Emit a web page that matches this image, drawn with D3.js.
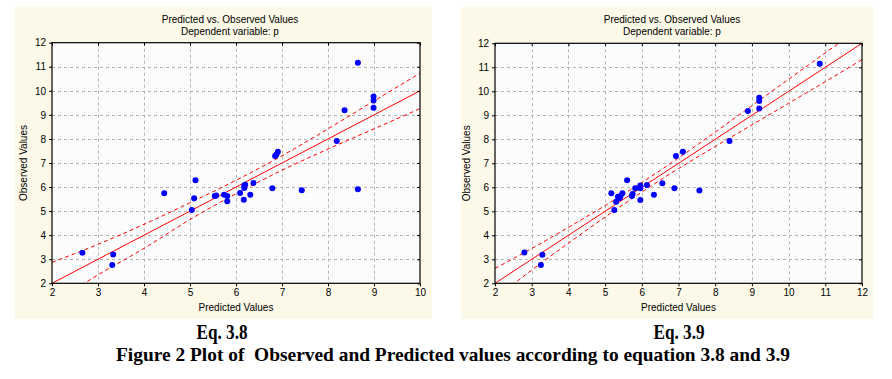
<!DOCTYPE html>
<html><head><meta charset="utf-8">
<script src="https://cdn.jsdelivr.net/npm/d3@7/dist/d3.min.js"></script>
<style>
html,body{margin:0;padding:0;background:#fff;}
svg{display:block;}
</style></head>
<body>
<svg id="chart" width="892" height="379"></svg>
<script>
// ---------- data ----------
const titleLine1 = "Predicted vs. Observed Values";
const titleLine2 = "Dependent variable: p";
const xLabel = "Predicted Values";
const yLabel = "Observed Values";
const captions = ["Eq. 3.8", "Eq. 3.9"];
const figureCaption = "Figure 2 Plot of  Observed and Predicted values according to equation 3.8 and 3.9";

const xTicks38 = [2, 3, 4, 5, 6, 7, 8, 9, 10];
const xTicks39 = [2, 3, 4, 5, 6, 7, 8, 9, 10, 11, 12];
const yTicks = [2, 3, 4, 5, 6, 7, 8, 9, 10, 11, 12];

// Eq. 3.8 : predicted (x) vs observed (y)
const pred38 = [2.66, 3.33, 3.31, 4.44, 5.12, 5.09, 5.04, 5.54, 5.57, 5.74, 5.81, 5.81, 6.09, 6.18, 6.18, 6.17, 6.31, 6.38, 6.79, 7.43, 8.65, 6.85, 6.88, 6.91, 8.19, 8.36, 8.65, 8.99, 8.99, 8.99, 6.2];
const obs38  = [3.27, 3.20, 2.76, 5.74, 6.28, 5.53, 5.05, 5.63, 5.65, 5.68, 5.63, 5.41, 5.75, 6.07, 5.96, 5.47, 5.68, 6.17, 5.95, 5.87, 5.91, 7.29, 7.35, 7.47, 7.91, 9.19, 11.17, 9.76, 9.60, 9.30, 6.10];

// Eq. 3.9 : predicted (x) vs observed (y)
const pred39 = [2.80, 3.29, 3.25, 5.17, 5.60, 5.30, 5.25, 5.35, 5.42, 5.47, 5.73, 5.75, 5.82, 5.96, 5.96, 5.96, 6.14, 6.33, 6.56, 6.89, 7.57, 6.93, 7.12, 8.39, 8.89, 9.20, 9.20, 9.20, 10.85, 5.40];
const obs39  = [3.28, 3.19, 2.76, 5.75, 6.29, 5.40, 5.05, 5.61, 5.64, 5.75, 5.64, 5.72, 5.96, 6.08, 5.96, 5.47, 6.10, 5.69, 6.17, 5.96, 5.87, 7.30, 7.48, 7.93, 9.18, 9.73, 9.60, 9.28, 11.15, 5.55];

// regression lines
const fitX38 = [2, 10], fitY38 = [2, 10];
const fitX39 = [2, 12], fitY39 = [2, 12];

// 95% confidence bands
const bandX38 = [2, 3, 4, 5, 6, 7, 8, 9, 10];
const bandUpper38 = [2.87, 3.62, 4.45, 5.35, 6.28, 7.30, 8.42, 9.58, 10.73];
const bandLower38 = [1.13, 2.35, 3.45, 4.65, 5.72, 6.70, 7.58, 8.42, 9.26];

const bandX39 = [2, 3, 4, 5, 6, 7, 8, 9, 10, 11, 12];
const bandUpper39 = [2.62, 3.45, 4.33, 5.24, 6.20, 7.22, 8.30, 9.40, 10.50, 11.60, 12.68];
const bandLower39 = [1.38, 2.55, 3.67, 4.76, 5.80, 6.78, 7.70, 8.60, 9.50, 10.40, 11.32];

// ---------- drawing ----------
const svg = d3.select("#chart");
const defs = svg.append("defs");
const pat = defs.append("pattern").attr("id", "dots").attr("width", 2).attr("height", 2)
  .attr("patternUnits", "userSpaceOnUse");
pat.append("rect").attr("width", 2).attr("height", 2).attr("fill", "#ffffff");
pat.append("rect").attr("width", 1).attr("height", 1).attr("fill", "#f3f3f3");

const panels = [
  { id: "p38", bg: [15, 7, 417, 312], plot: [52, 42.7, 420, 283.3], titleX: 230,
    xTicks: xTicks38, xDomain: [2, 10], pred: pred38, obs: obs38,
    fitX: fitX38, fitY: fitY38, bandX: bandX38, up: bandUpper38, lo: bandLower38,
    caption: captions[0], capX: 222, yLabX: 27 },
  { id: "p39", bg: [461, 7, 412, 312], plot: [495, 43.3, 862, 283.3], titleX: 672,
    xTicks: xTicks39, xDomain: [2, 12], pred: pred39, obs: obs39,
    fitX: fitX39, fitY: fitY39, bandX: bandX39, up: bandUpper39, lo: bandLower39,
    caption: captions[1], capX: 679, yLabX: 470 }
];

const font = "'Liberation Sans', Arial, sans-serif";

panels.forEach(p => {
  const [x0, y0, x1, y1] = p.plot;
  const g = svg.append("g");
  g.append("rect").attr("x", p.bg[0]).attr("y", p.bg[1]).attr("width", p.bg[2]).attr("height", p.bg[3])
    .attr("fill", "#fcf9e8");

  const x = d3.scaleLinear().domain(p.xDomain).range([x0, x1]);
  const y = d3.scaleLinear().domain([2, 12]).range([y1, y0]);

  g.append("rect").attr("x", x0).attr("y", y0).attr("width", x1 - x0).attr("height", y1 - y0)
    .attr("fill", "url(#dots)");

  // grid
  const grid = g.append("g").attr("stroke", "#b4b4b4").attr("stroke-dasharray", "3,3").attr("stroke-width", 1);
  p.xTicks.slice(1, -1).forEach(t => grid.append("line").attr("x1", Math.round(x(t)) + 0.5).attr("x2", Math.round(x(t)) + 0.5)
    .attr("y1", y0).attr("y2", y1));
  yTicks.slice(1, -1).forEach(t => grid.append("line").attr("y1", Math.round(y(t)) + 0.5).attr("y2", Math.round(y(t)) + 0.5)
    .attr("x1", x0).attr("x2", x1));

  // clip
  defs.append("clipPath").attr("id", "clip" + p.id).append("rect")
    .attr("x", x0).attr("y", y0).attr("width", x1 - x0).attr("height", y1 - y0);
  const inner = g.append("g").attr("clip-path", `url(#clip${p.id})`);

  const lineGen = d3.line().x(d => x(d[0])).y(d => y(d[1])).curve(d3.curveMonotoneX);
  inner.append("path").attr("d", lineGen(p.bandX.map((v, i) => [v, p.up[i]])))
    .attr("fill", "none").attr("stroke", "#ff0000").attr("stroke-width", 1).attr("stroke-dasharray", "4,3");
  inner.append("path").attr("d", lineGen(p.bandX.map((v, i) => [v, p.lo[i]])))
    .attr("fill", "none").attr("stroke", "#ff0000").attr("stroke-width", 1).attr("stroke-dasharray", "4,3");
  inner.append("path").attr("d", d3.line().x(d => x(d[0])).y(d => y(d[1]))(p.fitX.map((v, i) => [v, p.fitY[i]])))
    .attr("fill", "none").attr("stroke", "#ff0000").attr("stroke-width", 1);

  inner.selectAll("circle").data(p.pred.map((v, i) => [v, p.obs[i]])).join("circle")
    .attr("cx", d => x(d[0])).attr("cy", d => y(d[1])).attr("r", 3).attr("fill", "#0000ff");

  // frame
  g.append("rect").attr("x", x0).attr("y", y0).attr("width", x1 - x0).attr("height", y1 - y0)
    .attr("fill", "none").attr("stroke", "#000").attr("stroke-width", 1.2);

  // axes
  g.append("g").attr("transform", `translate(0,${y1})`)
    .call(d3.axisBottom(x).tickValues(p.xTicks).tickSize(3).tickPadding(3).tickFormat(d3.format("d")));
  g.append("g").attr("transform", `translate(${x0},0)`)
    .call(d3.axisLeft(y).tickValues(yTicks).tickSize(3).tickPadding(3).tickFormat(d3.format("d")));
  g.append("g").attr("transform", `translate(${x1},0)`)
    .call(d3.axisLeft(y).tickValues(yTicks).tickSize(3).tickFormat(""));
  g.append("g").attr("transform", `translate(0,${y0})`)
    .call(d3.axisBottom(x).tickValues(p.xTicks).tickSize(3).tickFormat(""));
  g.selectAll(".domain").remove();
  g.selectAll(".tick line").attr("stroke", "#000");
  g.selectAll(".tick text").attr("font-family", font).attr("font-size", 10).attr("fill", "#000");

  // titles
  g.append("text").attr("x", p.titleX).attr("y", 23).attr("text-anchor", "middle")
    .attr("font-family", font).attr("font-size", 10).text(titleLine1);
  g.append("text").attr("x", p.titleX).attr("y", 35).attr("text-anchor", "middle")
    .attr("font-family", font).attr("font-size", 10).text(titleLine2);
  g.append("text").attr("x", (x0 + x1) / 2).attr("y", 311).attr("text-anchor", "middle")
    .attr("font-family", font).attr("font-size", 10).text(xLabel);
  g.append("text").attr("transform", `translate(${p.yLabX},${(y0 + y1) / 2}) rotate(-90)`)
    .attr("text-anchor", "middle").attr("font-family", font).attr("font-size", 10).text(yLabel);

  // caption
  svg.append("text").attr("x", p.capX).attr("y", 339).attr("text-anchor", "middle")
    .attr("font-family", "'Liberation Serif', 'Times New Roman', serif").attr("font-weight", "bold")
    .attr("font-size", 20).attr("transform", `translate(${p.capX},0) scale(0.86,1) translate(${-p.capX},0)`)
    .text(p.caption);
});

svg.append("text").attr("x", 453).attr("y", 361).attr("text-anchor", "middle")
  .attr("font-family", "'Liberation Serif', 'Times New Roman', serif").attr("font-weight", "bold")
  .attr("font-size", 19).attr("textLength", 674).attr("lengthAdjust", "spacingAndGlyphs")
  .style("white-space", "pre")
  .text(figureCaption);
</script>
</body></html>
